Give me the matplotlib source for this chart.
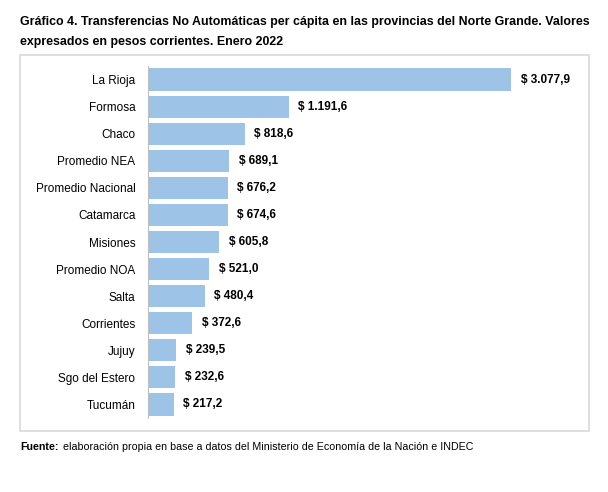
import matplotlib.pyplot as plt
from matplotlib.patches import Rectangle

plt.rcParams['font.family'] = ['Liberation Sans', 'DejaVu Sans']

# datos
provincias = ["La Rioja", "Formosa", "Chaco", "Promedio NEA", "Promedio Nacional",
              "Catamarca", "Misiones", "Promedio NOA", "Salta", "Corrientes",
              "Jujuy", "Sgo del Estero", "Tucumán"]
valores = [3077.9, 1191.6, 818.6, 689.1, 676.2, 674.6, 605.8, 521.0, 480.4,
           372.6, 239.5, 232.6, 217.2]
etiquetas = ["$ 3.077,9", "$ 1.191,6", "$ 818,6", "$ 689,1", "$ 676,2", "$ 674,6",
             "$ 605,8", "$ 521,0", "$ 480,4", "$ 372,6", "$ 239,5", "$ 232,6", "$ 217,2"]

W, H = 608, 492
fig = plt.figure(figsize=(W / 100, H / 100), dpi=100)

# marco del gráfico
fig.patches.append(Rectangle((20 / W, 1 - 431 / H), 569 / W, 376 / H,
                             transform=fig.transFigure, fill=False,
                             edgecolor='#D9D9D9', linewidth=1.2))

ax = fig.add_axes([148 / W, 1 - 418 / H, 432 / W, 352 / H])
pos = list(range(len(provincias)))
ax.barh(pos, valores, height=0.82, color='#9DC3E6')
ax.set_ylim(len(provincias) - 0.5, -0.5)
ax.set_xlim(0, 3077.9 * 432 / 363)
ax.set_yticks(pos)
ax.set_yticklabels(provincias, fontsize=8.5)
ax.tick_params(axis='y', length=0, pad=9)
ax.set_xticks([])
for s in ['top', 'right', 'bottom']:
    ax.spines[s].set_visible(False)
ax.spines['left'].set_color('#BFBFBF')
ax.spines['left'].set_linewidth(0.8)

for y, v, t in zip(pos, valores, etiquetas):
    ax.annotate(t, (v, y), xytext=(7, 0), textcoords='offset points',
                va='center', ha='left', fontsize=8.5, fontweight='bold')

fig.text(20 / W, 1 - 22 / H,
         "Gráfico 4. Transferencias No Automáticas per cápita en las provincias del Norte Grande. Valores",
         fontsize=8.95, fontweight='bold', va='center', ha='left')
fig.text(20 / W, 1 - 42 / H, "expresados en pesos corrientes. Enero 2022",
         fontsize=8.95, fontweight='bold', va='center', ha='left')

fig.text(20 / W, 1 - 447 / H, "Fuente:", fontsize=7.65, fontweight='bold', va='center', ha='left')
fig.text(63 / W, 1 - 447 / H,
         "elaboración propia en base a datos del Ministerio de Economía de la Nación e INDEC",
         fontsize=7.65, va='center', ha='left')

plt.savefig('out.png', dpi=100)
